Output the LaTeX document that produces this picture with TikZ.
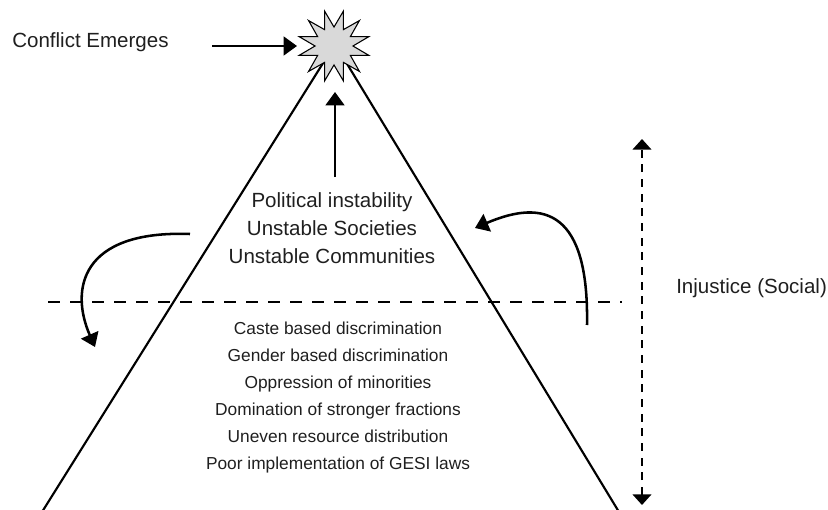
\documentclass[tikz,border=0pt]{standalone}
\usepackage{fontspec}
\setmainfont{Liberation Sans}
\usetikzlibrary{shapes.geometric,arrows.meta}
\begin{document}
\begin{tikzpicture}[x=0.75pt,y=-0.75pt,
  txt/.style={font=\fontsize{15.4}{21}\selectfont, text=black!88, inner sep=0pt, align=center},
  lowtxt/.style={font=\fontsize{13}{20.25}\selectfont, text=black!88, inner sep=0pt, align=center},
  triline/.style={line width=1.6pt},
  arr/.style={line width=1.9pt, -{Triangle[length=10pt,width=14pt]}},
  dashline/.style={line width=1.6pt, dash pattern=on 9pt off 7.5pt},
  dasharr/.style={line width=1.6pt, dash pattern=on 6pt off 5pt, {Triangle[length=8pt,width=14pt]}-{Triangle[length=8pt,width=14pt]}},
  burst/.style={draw, fill=black!15, line width=0.8pt, shape=star, star points=12, star point ratio=1.9, minimum size=54pt, inner sep=0pt, shape border rotate=15}]
\useasboundingbox (0,0) rectangle (828,510);
% triangle
\coordinate (apex) at (335,44);
\coordinate (bl) at (42,512);
\coordinate (br) at (619,512);
\draw[triline] (bl) -- (apex) -- (br);
% star
\node[burst] (star) at (334,46) {};
% texts
\node[txt, anchor=base west] (conf) at (12,48) {Conflict Emerges};
\node[txt] (upper) at (332,228) {Political instability\\Unstable Societies\\Unstable Communities};
\node[lowtxt] (lower) at (338,398) {Caste based discrimination\\Gender based discrimination\\Oppression of minorities\\Domination of stronger fractions\\Uneven resource distribution\\Poor implementation of GESI laws};
\node[txt, anchor=base west] (inj) at (676,293) {Injustice (Social)};
% arrows
\coordinate (cs) at (212,46);
\coordinate (ce) at (297,46);
\draw[arr] (cs) -- (ce);
\coordinate (vs) at (335,177);
\coordinate (ve) at (335,92);
\draw[arr] (vs) -- (ve);
% dashed line
\coordinate (dl) at (48,302);
\coordinate (dr) at (622,302);
\draw[dashline] (dl) -- (dr);
% vertical dashed double arrow
\coordinate (jt) at (642,139);
\coordinate (jb) at (642,505);
\draw[dasharr] (jb) -- (jt);
% curved arrows
\coordinate (ls) at (190,234);
\coordinate (le) at (95,347);
\draw[arr] (ls) .. controls (80,230) and (70,290) .. (le);
\coordinate (rs) at (587,325);
\coordinate (re) at (475,228);
\draw[arr] (rs) .. controls (589,212) and (545,198) .. (re);
\end{tikzpicture}
\end{document}
